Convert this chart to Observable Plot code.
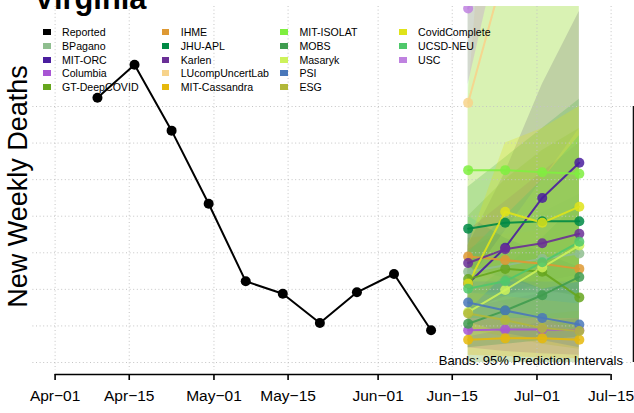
<!DOCTYPE html>
<html><head><meta charset="utf-8">
<script src="https://cdn.jsdelivr.net/npm/d3@7"></script>
<script src="https://cdn.jsdelivr.net/npm/@observablehq/plot@0.6"></script>
<style>
body{margin:0;background:#fff;font-family:"Liberation Sans",Arial,Helvetica,sans-serif;}
#wrap{position:relative;width:634px;height:413px;overflow:hidden;}
#chart{position:absolute;left:0;top:0;}
#title{position:absolute;left:34px;top:-16px;font-size:30.8px;font-weight:bold;line-height:30.8px;white-space:nowrap;}
.lt{position:absolute;font-size:10.6px;line-height:12px;white-space:nowrap;color:#000;}
.sw{position:absolute;width:7.5px;height:6px;}
#ylab{position:absolute;width:300px;text-align:center;font-size:27px;line-height:27px;transform:rotate(-90deg);transform-origin:center;white-space:nowrap;}
#bands{position:absolute;right:11px;top:352.5px;font-size:13px;line-height:15px;white-space:nowrap;}
</style></head>
<body><div id="wrap"><div id="chart"></div></div>
<script>
// ---- data ----
const reportedDates = ["2021-04-09","2021-04-16","2021-04-23","2021-04-30","2021-05-07","2021-05-14","2021-05-21","2021-05-28","2021-06-04","2021-06-11"];
const reportedDeaths = [362,407,317,217,111,94,54,96,121,44];
const forecastDates = ["2021-06-18","2021-06-25","2021-07-02","2021-07-09"];
const models = ["BPagano","MIT-ORC","Columbia","GT-DeepCOVID","IHME","JHU-APL","Karlen","LUcompUncertLab","MIT-Cassandra","MIT-ISOLAT","MOBS","Masaryk","PSI","ESG","CovidComplete","UCSD-NEU","USC"];
const modelColors = ["#8fbe8f","#4a1e9e","#a855d4","#66a61e","#de9933","#008a45","#6a2f96","#f7d38b","#e6b80b","#7fef3f","#3f9c4f","#cdf25a","#4a78ba","#b1b83a","#dfe31a","#4fc86b","#bf82e0"];
const medians = [
  [124,133,142,149],[108,157,225,273],[44,45,45,44],[114,128,124,89],
  [145,140,135,128],[183,191,193,193],[136,155,163,176],[355,540,720,900],
  [31,33,33,31],[263,263,260,258],[53,71,92,117],[69,99,130,160],
  [82,71,61,52],[67,58,47,43],[108,206,191,213],[101,111,137,165],[484,620,760,900]
];
const lower = [
  [95,90,85,80],[70,90,110,120],[20,15,12,10],[0,0,0,0],
  [120,110,100,90],[130,115,100,90],[95,95,95,95],[200,170,150,130],
  [10,8,6,5],[100,80,60,40],[20,25,30,35],[35,45,55,60],
  [55,40,30,20],[45,35,25,18],[70,120,100,110],[60,60,60,60],[380,600,800,1000]
];
const upper = [
  [155,180,205,230],[160,260,380,480],[75,85,95,105],[200,250,290,320],
  [170,175,180,180],[240,280,320,360],[180,220,260,300],[360,1000,1500,2000],
  [55,60,65,70],[600,700,800,900],[90,130,170,220],[110,180,250,320],
  [110,110,110,110],[95,90,85,80],[160,300,320,350],[150,200,250,310],[900,1100,1300,1500]
];
const tickDates = ["2021-04-01","2021-04-15","2021-05-01","2021-05-15","2021-06-01","2021-06-15","2021-07-01","2021-07-15"];
const tickLabels = ["Apr\u221201","Apr\u221215","May\u221201","May\u221215","Jun\u221201","Jun\u221215","Jul\u221201","Jul\u221215"];
const yTicks = [0,50,100,150,200,250,300,350];
const legendNames = ["Reported", ...models];
const legendColors = ["#000000", ...modelColors];

// ---- build tables ----
const parse = d3.utcParse("%Y-%m-%d");
const reported = reportedDates.map((d,i)=>({date:parse(d), deaths:reportedDeaths[i]}));
const fc = [];
models.forEach((m,i)=>forecastDates.forEach((d,j)=>fc.push({model:m, date:parse(d), median:medians[i][j], lo:lower[i][j], hi:upper[i][j]})));
const ticks = tickDates.map(parse);
const labelMap = new Map(ticks.map((d,i)=>[+d, tickLabels[i]]));
const xDomain = [ticks[0], ticks[ticks.length-1]];
const xRight = new Date(+xDomain[1] + 0.04*(xDomain[1]-xDomain[0]));

const chart = Plot.plot({
  width: 634, height: 413,
  marginTop: 6, marginBottom: 39, marginLeft: 32.4, marginRight: 1.2,
  x: {type:"utc", domain: xDomain, range:[54.6, 610.6], axis: null},
  y: {domain:[0,350], range:[362,106], axis: null},
  color: {domain: models, range: modelColors},
  style: {fontFamily:"'Liberation Sans',Arial,Helvetica,sans-serif", background:"transparent", color:"#000", overflow:"hidden"},
  marks: [
    Plot.areaY(fc, {x:"date", y1:"lo", y2:"hi", z:"model", fill:"model", fillOpacity:0.28, clip:true}),
    Plot.ruleX(ticks, {stroke:"#c4c4c4", strokeDasharray:"1,2.6", insetBottom:4}),
    Plot.ruleY(yTicks, {stroke:"#c4c4c4", strokeDasharray:"1,2.6"}),
    Plot.line(reported, {x:"date", y:"deaths", stroke:"#000", strokeWidth:2}),
    Plot.dot(reported, {x:"date", y:"deaths", fill:"#000", r:5}),
    Plot.line(fc, {x:"date", y:"median", z:"model", stroke:"model", strokeWidth:2, strokeOpacity:0.9, clip:true}),
    Plot.dot(fc, {x:"date", y:"median", fill:"model", r:5, fillOpacity:0.85, clip:true}),
    Plot.ruleX([xRight], {y1:0, y2:350, stroke:"#000", strokeWidth:1.2}),
    Plot.ruleY([0], {x1:xDomain[0], x2:xDomain[1], dy:12, stroke:"#000", strokeWidth:1.6}),
    Plot.axisX(ticks, {anchor:"bottom", tickSize:6, tickPadding:9, strokeWidth:1.6, fontSize:15.5, tickFormat:d=>labelMap.get(+d), label:null})
  ]
});
document.getElementById("chart").appendChild(chart);

// ---- overlays: title, y label, legend, caption ----
const wrap = document.getElementById("wrap");
const t = document.createElement("div"); t.id="title"; t.textContent="Virginia"; wrap.appendChild(t);
const yl = document.createElement("div"); yl.id="ylab"; yl.textContent="New Weekly Deaths";
yl.style.left = (17.6-150)+"px"; yl.style.top = (186.5-13.5)+"px"; wrap.appendChild(yl);
legendNames.forEach((n,i)=>{
  const col = Math.floor(i/5), row = i%5;
  const cx = 43 + col*118.7, cy = 31.7 + row*13.9;
  const s = document.createElement("div"); s.className="sw";
  s.style.left = cx+"px"; s.style.top=(cy-3)+"px"; s.style.background = legendColors[i]; wrap.appendChild(s);
  const l = document.createElement("div"); l.className="lt";
  l.style.left = (cx+19)+"px"; l.style.top=(cy-6)+"px"; l.textContent = n; wrap.appendChild(l);
});
const b = document.createElement("div"); b.id="bands"; b.textContent="Bands: 95% Prediction Intervals"; wrap.appendChild(b);
</script>
</body></html>
